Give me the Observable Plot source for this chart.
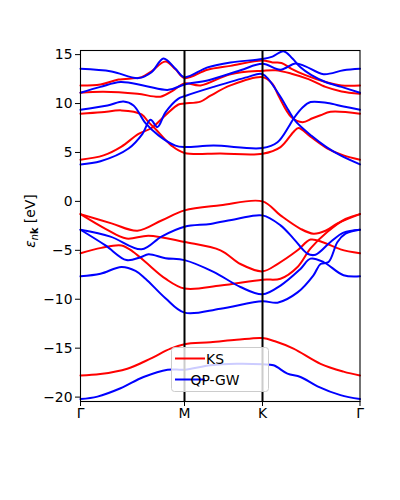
<!DOCTYPE html>
<html><head><meta charset="utf-8">
<script src="https://cdn.jsdelivr.net/npm/d3@7"></script>
<script src="https://cdn.jsdelivr.net/npm/@observablehq/plot@0.6"></script>
<style>
body{margin:0;background:#fff;}
#wrap{position:relative;width:400px;height:500px;}
</style></head><body><div id="wrap"></div>
<script>
// High-symmetry path (Γ=0, M=1, K=1.75, Γ=2.6875 in path units)
const kTicks = [0, 1, 1.75, 2.6875];
const kLabels = ["Γ", "M", "K", "Γ"];
const yTicks = [-20, -15, -10, -5, 0, 5, 10, 15];
const seriesNames = ["KS", "QP-GW"];
const seriesColors = ["red", "blue"];

// KS bands: [k, E (eV)]
const ksBands = [
  [[0,-17.8],[0.19,-17.65],[0.45,-17.1],[0.673,-16.07],[0.865,-15.05],[1.0,-14.6],[1.25,-14.4],[1.5,-14.15],[1.75,-13.96],[1.87,-14.3],[2.048,-15.05],[2.308,-16.6],[2.529,-17.4],[2.6875,-17.8]],
  [[0,-5.3],[0.2,-4.75],[0.394,-4.5],[0.5,-5.1],[0.625,-6.2],[0.817,-7.9],[1.0,-8.9],[1.346,-8.6],[1.75,-8.0],[1.923,-7.9],[2.087,-6.7],[2.212,-4.8],[2.375,-3.1],[2.548,-1.8],[2.6875,-1.3]],
  [[0,-1.3],[0.24,-2.8],[0.442,-3.8],[0.654,-3.5],[1.0,-4.15],[1.346,-5.0],[1.538,-6.4],[1.75,-7.15],[1.894,-6.4],[2.087,-5.0],[2.212,-3.9],[2.337,-4.2],[2.5,-4.9],[2.6875,-5.3]],
  [[0,-1.3],[0.298,-2.25],[0.548,-3.0],[0.779,-1.95],[1.0,-0.92],[1.346,-0.4],[1.75,0.0],[1.923,-1.43],[2.115,-2.8],[2.24,-3.3],[2.356,-3.0],[2.471,-2.25],[2.6875,-1.3]],
  [[0,4.26],[0.221,4.7],[0.394,5.6],[0.558,6.9],[0.683,7.5],[0.817,8.8],[0.942,9.9],[1.0,10.0],[1.154,10.2],[1.25,10.8],[1.442,11.85],[1.75,12.7],[1.846,12.0],[1.904,10.8],[2.029,8.6],[2.135,8.1],[2.231,8.5],[2.308,8.8],[2.404,9.15],[2.6875,8.96]],
  [[0,8.96],[0.2,9.1],[0.394,9.3],[0.587,8.9],[0.654,8.1],[0.721,7.4],[0.875,5.7],[1.0,4.95],[1.346,4.9],[1.75,4.87],[1.923,5.55],[2.048,7.1],[2.096,7.5],[2.212,6.6],[2.375,5.4],[2.529,4.7],[2.6875,4.26]],
  [[0,11.1],[0.221,11.2],[0.548,11.0],[0.769,10.7],[0.885,11.3],[1.0,12.05],[1.154,11.85],[1.442,13.0],[1.75,13.35],[1.875,13.4],[2.029,13.05],[2.192,12.5],[2.356,11.7],[2.51,11.24],[2.6875,11.0]],
  [[0,11.85],[0.192,11.95],[0.365,12.45],[0.587,12.7],[0.683,13.3],[0.817,14.3],[0.913,13.5],[1.0,12.6],[1.221,13.45],[1.442,13.85],[1.75,14.4],[1.846,14.2],[1.933,14.15],[2.029,13.55],[2.163,12.9],[2.356,12.2],[2.51,11.85],[2.6875,11.85]]
];

// QP-GW bands: [k, E (eV)]
const gwBands = [
  [[0,-20.2],[0.163,-19.95],[0.385,-19.1],[0.606,-17.95],[0.837,-17.2],[1.0,-17.2],[1.25,-16.75],[1.5,-16.6],[1.75,-16.65],[1.856,-16.75],[1.99,-17.6],[2.115,-17.95],[2.279,-18.9],[2.5,-19.8],[2.6875,-20.2]],
  [[0,-7.66],[0.192,-7.4],[0.394,-6.7],[0.529,-7.1],[0.625,-7.9],[0.817,-9.9],[1.0,-11.37],[1.346,-10.96],[1.75,-10.2],[1.894,-10.35],[2.087,-9.3],[2.24,-7.55],[2.308,-6.4],[2.385,-6.2],[2.471,-4.15],[2.548,-3.3],[2.6875,-2.9]],
  [[0,-2.9],[0.24,-4.5],[0.442,-6.0],[0.577,-5.7],[0.654,-5.4],[0.817,-5.8],[1.0,-6.0],[1.279,-7.2],[1.538,-8.75],[1.75,-9.5],[1.923,-8.6],[2.115,-6.9],[2.212,-5.85],[2.337,-6.2],[2.529,-7.55],[2.6875,-7.66]],
  [[0,-2.9],[0.288,-3.6],[0.587,-4.9],[0.779,-3.6],[1.0,-2.6],[1.25,-2.3],[1.5,-1.8],[1.75,-1.43],[1.923,-2.45],[2.048,-3.8],[2.183,-5.35],[2.26,-5.45],[2.404,-4.15],[2.529,-3.2],[2.6875,-2.9]],
  [[0,3.78],[0.192,4.1],[0.462,5.4],[0.596,6.9],[0.673,8.35],[0.74,7.6],[0.817,9.1],[0.942,10.5],[1.0,10.75],[1.279,11.7],[1.606,12.7],[1.75,13.0],[1.904,11.0],[2.0,9.3],[2.067,8.2],[2.221,6.7],[2.365,5.55],[2.5,4.7],[2.6875,3.78]],
  [[0,9.36],[0.26,9.8],[0.413,10.2],[0.51,9.8],[0.625,8.0],[0.75,6.75],[0.913,5.7],[1.0,5.55],[1.279,5.7],[1.75,5.45],[1.894,6.05],[2.0,7.6],[2.048,8.45],[2.135,9.6],[2.212,10.15],[2.375,10.05],[2.529,9.7],[2.6875,9.36]],
  [[0,11.1],[0.192,11.7],[0.385,12.2],[0.625,11.8],[0.846,11.4],[1.0,11.95],[1.221,12.36],[1.538,13.4],[1.75,14.06],[1.923,13.45],[2.067,14.1],[2.163,13.8],[2.337,13.0],[2.529,13.4],[2.6875,13.55]],
  [[0,13.55],[0.298,13.28],[0.558,12.6],[0.683,13.2],[0.798,14.6],[0.913,13.55],[1.0,12.7],[1.221,13.7],[1.442,14.2],[1.75,14.55],[1.846,14.8],[1.952,15.35],[2.038,14.6],[2.115,13.7],[2.221,12.9],[2.356,12.2],[2.51,11.7],[2.6875,11.1]]
];

const rows = [];
[ksBands, gwBands].forEach((bands, s) => {
  bands.forEach((band, b) => {
    band.forEach(([k, E]) => rows.push({series: seriesNames[s], band: s + "-" + b, k, E}));
  });
});

const labelOf = new Map(kTicks.map((t, i) => [t, kLabels[i]]));
const FONT = "DejaVu Sans, sans-serif";

const chart = Plot.plot({
  width: 400,
  height: 500,
  marginLeft: 80,
  marginRight: 40.5,
  marginTop: 50,
  marginBottom: 99,
  style: {fontFamily: FONT, fontSize: "13.9px", color: "black", background: "white"},
  x: {domain: [0, 2.6875]},
  y: {domain: [-20.45, 15.42]},
  color: {domain: seriesNames, range: seriesColors},
  marks: [
    Plot.line(rows, {x: "k", y: "E", z: "band", stroke: "series", strokeWidth: 2, curve: "catmull-rom"}),
    Plot.ruleX(kTicks.slice(1, 3), {stroke: "black", strokeWidth: 2}),
    Plot.frame({stroke: "black", strokeWidth: 1.1}),
    Plot.axisY({ticks: yTicks, tickSize: 5, tickPadding: 3, label: null,
      tickFormat: d => String(d).replace("-", "\u2212"), fontSize: "13.9px"}),
    Plot.axisX({ticks: kTicks, tickSize: 5, tickPadding: 2, label: null,
      tickFormat: d => labelOf.get(d), fontSize: "13.9px"})
  ]
});

const svg = d3.select(chart);
// y-axis label
const lab = svg.append("text")
  .attr("transform", "translate(35,221) rotate(-90)")
  .attr("text-anchor", "middle")
  .attr("font-family", FONT)
  .attr("font-size", "13.9px")
  .attr("fill", "black");
lab.append("tspan").attr("font-style", "italic").text("ε");
const sub = lab.append("tspan").attr("font-size", "9.7px").attr("dy", 3);
sub.append("tspan").attr("font-style", "italic").text("n");
sub.append("tspan").attr("font-weight", "bold").text("k");
lab.append("tspan").attr("dy", -3).text(" [eV]");

// legend
const lg = svg.append("g").attr("font-family", FONT).attr("font-size", "13.9px");
lg.append("rect").attr("x", 171.5).attr("y", 347.5).attr("width", 97).attr("height", 44)
  .attr("rx", 3).attr("fill", "white").attr("fill-opacity", 0.8).attr("stroke", "#cccccc");
seriesNames.forEach((name, i) => {
  const y = 358.5 + i * 21;
  lg.append("line").attr("x1", 175).attr("x2", 205).attr("y1", y).attr("y2", y)
    .attr("stroke", seriesColors[i]).attr("stroke-width", 2);
  lg.append("text").attr("x", 215).attr("y", y).attr("dy", "0.36em").attr("fill", "black").text(name);
});

document.getElementById("wrap").appendChild(chart);
</script></body></html>
